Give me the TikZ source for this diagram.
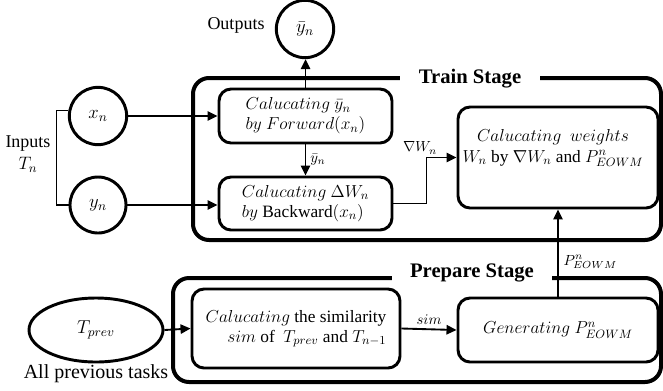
\RequirePackage{fix-cm}
\documentclass[tikz,border=0pt]{standalone}
\usepackage{fontspec}
\setmainfont{Liberation Serif}
\usetikzlibrary{arrows.meta,shapes.geometric}
\tikzset{
  stagebox/.style={line width=3pt,rounded corners=12pt},
  procbox/.style={draw,line width=2.2pt,rounded corners=9pt,inner sep=0pt,
    font=\fontsize{13}{15}\selectfont},
  varnode/.style={draw,circle,line width=2.2pt,inner sep=0pt,minimum size=43pt,
    font=\fontsize{14}{16}\selectfont},
  conn/.style={line width=1.4pt,-{Triangle[length=7.5pt,width=7pt]}},
  small/.style={font=\fontsize{11}{13}\selectfont,inner sep=1pt},
  titlenode/.style={fill=white,inner ysep=1pt,font=\fontsize{15.5}{17}\selectfont\bfseries},
  plain/.style={font=\fontsize{13.5}{16.5}\selectfont,inner sep=0pt}
}
\begin{document}
\begin{tikzpicture}[x=0.75pt,y=-0.75pt]
\useasboundingbox (0,0) rectangle (663,390);
% stage frames
\draw[stagebox] (193,78) rectangle (661,240);
\node[titlenode,minimum width=105pt] (ttitle) at (470,79) {Train Stage};
\draw[stagebox] (173,278) rectangle (661,382);
\node[titlenode,minimum width=120pt,inner ysep=0pt] (ptitle) at (472,273) {Prepare Stage};
% process boxes
\node[procbox,minimum width=129.75pt,minimum height=40.5pt,align=left] (fwd) at (305.5,116)
  {$Calucating\ \bar{y}_n$\\$by\ Forward(x_n)$};
\node[procbox,minimum width=129.75pt,minimum height=39.75pt,align=left] (bwd) at (305.5,203.5)
  {$Calucating\ \Delta W_n$\\$by$ Backward$(x_n)$};
\node[procbox,minimum width=150pt,minimum height=75.75pt] (wbox) at (558,157.5) {};
\node[font=\fontsize{13}{15.5}\selectfont,align=center,inner sep=0pt] (wtext) at (553,148)
  {$Calucating\ \ weights$\\$W_n$ by $\nabla W_n$ and $P^n_{EOWM}$};
\node[procbox,minimum width=156pt,minimum height=59.25pt,align=right] (simbox) at (296,328.5)
  {$Calucating$ the similarity\\$sim$ of \ $T_{prev}$ and $T_{n-1}$};
\node[procbox,minimum width=150pt,minimum height=48pt] (gen) at (558,330)
  {$Generating\ P^n_{EOWM}$};
% variables
\node[varnode] (yout) at (305,29) {$\bar{y}_n$};
\node[varnode] (xn) at (98,116) {$x_n$};
\node[varnode,minimum size=42pt] (yn) at (98,205) {$y_n$};
\node[draw,ellipse,line width=2.2pt,minimum width=100.5pt,minimum height=48pt,inner sep=0pt,
  font=\fontsize{14}{16}\selectfont] (tprev) at (96,330) {$T_{prev}$};
% texts
\node[plain] (outl) at (236,25) {Outputs};
\node[plain,align=center] (inl) at (28,154) {Inputs\\$T_n$};
\node[plain,font=\fontsize{15}{17}\selectfont] (alll) at (96,374) {All previous tasks};
% connectors
\draw[line width=1pt] (xn.170) -- ++(-12,0) coordinate (brk) |- (yn.west);
\draw[conn] (xn.east) -- (xn.east -| fwd.west);
\draw[conn] (yn.east) -- (yn.east -| bwd.west);
\draw[conn] (fwd.north) -- (fwd.north |- yout.south);
\draw[conn] (fwd.south) -- node[small,right=2pt] (lyb) {$\bar{y}_n$} (bwd.north);
\draw[conn] (bwd.east) -- ++(33,0) coordinate (bend) |- (wbox.west);
\node[small] (lnab) at (420,148) {$\nabla W_n$};
\draw[conn] (tprev.east) -- (simbox.west);
\draw[conn] (simbox.east) -- node[small,above=2pt] (lsim) {$sim$} (gen.west);
\draw[conn] (gen.north) -- (wbox.south);
\node[small,anchor=west] (lpe) at (562,262) {$P^n_{EOWM}$};
\end{tikzpicture}
\end{document}
